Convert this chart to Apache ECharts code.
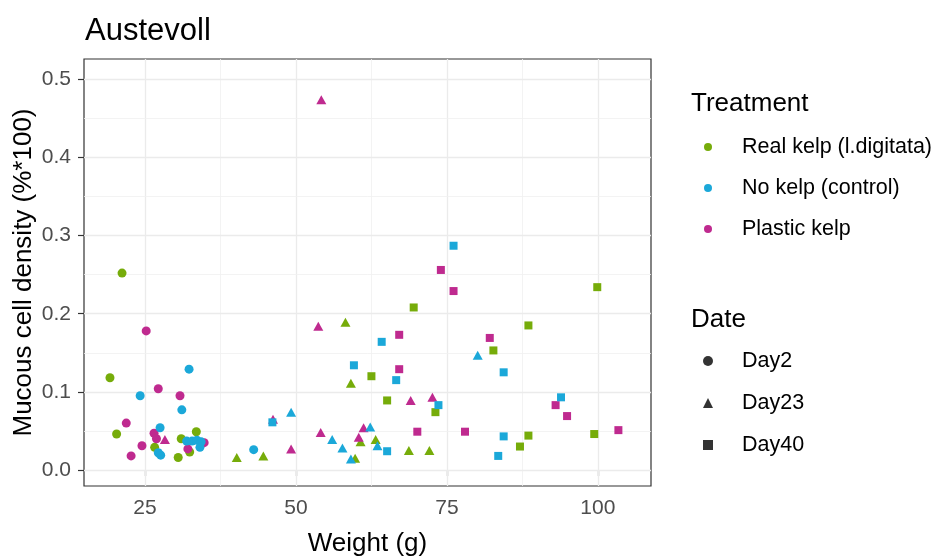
<!DOCTYPE html>
<html><head><meta charset="utf-8">
<script src="https://cdn.jsdelivr.net/npm/echarts@6/dist/echarts.min.js"></script>
<style>html,body{margin:0;padding:0;background:#fff}#c{width:943px;height:559px}</style>
</head><body><div id="c"></div>
<script>
const treatments = ['Real kelp (l.digitata)', 'No kelp (control)', 'Plastic kelp'];
const dates = ['Day2', 'Day23', 'Day40'];
const xTicks = [25, 50, 75, 100];
const xMinor = [37.5, 62.5, 87.5];
const yTicks = [0, 0.1, 0.2, 0.3, 0.4, 0.5];
const yMinor = [0.05, 0.15, 0.25, 0.35, 0.45];

// [weight, density]
const realDay2 = [[21.2,0.252],[19.2,0.118],[20.3,0.046],[26.6,0.029],[31.0,0.040],[33.5,0.049],[32.4,0.023],[30.5,0.016]];
const realDay23 = [[40.2,0.016],[44.6,0.018],[58.2,0.189],[59.1,0.111],[59.8,0.015],[60.7,0.036],[63.2,0.039],[68.7,0.025],[72.1,0.025]];
const realDay40 = [[62.5,0.120],[65.1,0.089],[69.5,0.208],[73.1,0.074],[82.7,0.153],[87.1,0.030],[88.5,0.044],[88.5,0.185],[99.4,0.046],[99.9,0.234]];

const noDay2 = [[24.2,0.095],[27.5,0.054],[27.2,0.022],[27.6,0.019],[31.1,0.077],[32.3,0.129],[31.9,0.037],[32.8,0.037],[33.6,0.038],[34.3,0.036],[34.1,0.029],[43.0,0.026]];
const noDay23 = [[49.2,0.074],[56.0,0.039],[57.7,0.028],[59.1,0.014],[62.3,0.055],[63.5,0.031],[80.1,0.147]];
const noDay40 = [[46.1,0.061],[59.6,0.134],[64.2,0.164],[65.1,0.024],[66.6,0.115],[73.6,0.083],[76.1,0.287],[83.5,0.018],[84.4,0.043],[84.4,0.125],[93.9,0.093]];

const plasticDay2 = [[21.9,0.060],[22.7,0.018],[24.5,0.031],[25.2,0.178],[26.5,0.047],[26.9,0.040],[27.2,0.104],[30.8,0.095],[32.1,0.027],[34.8,0.035]];
const plasticDay23 = [[28.3,0.039],[46.2,0.065],[49.2,0.027],[53.7,0.184],[54.1,0.048],[54.2,0.474],[60.4,0.042],[61.2,0.054],[69.0,0.089],[72.6,0.093]];
const plasticDay40 = [[67.1,0.173],[67.1,0.129],[70.1,0.049],[74.0,0.256],[76.1,0.229],[78.0,0.049],[82.1,0.169],[93.0,0.083],[94.9,0.069],[103.4,0.051]];

const colors = {'Real kelp (l.digitata)': '#76AC0A', 'No kelp (control)': '#1BA8D9', 'Plastic kelp': '#BF2A8F'};
const symbols = {Day2: 'circle', Day23: 'triangle', Day40: 'rect'};
const sizes = {Day2: 9, Day23: [10, 9], Day40: 8};

const FONT = 'Liberation Sans, Arial, sans-serif';

function pts(name, date, data) {
  return {
    type: 'scatter', name: name, data: data, symbol: symbols[date], symbolSize: sizes[date],
    itemStyle: {color: colors[name], opacity: 1}, z: 3, animation: false
  };
}

const gridLines = [];
xTicks.forEach(v => gridLines.push({xAxis: v, lineStyle: {color: '#EBEBEB', width: 1.3, type: 'solid'}}));
xMinor.forEach(v => gridLines.push({xAxis: v, lineStyle: {color: '#F0F0F0', width: 0.8, type: 'solid'}}));
yTicks.forEach(v => gridLines.push({yAxis: v, lineStyle: {color: '#EBEBEB', width: 1.3, type: 'solid'}}));
yMinor.forEach(v => gridLines.push({yAxis: v, lineStyle: {color: '#F0F0F0', width: 0.8, type: 'solid'}}));

const series = [
  {type: 'scatter', name: '__grid', data: [], z: 1, silent: true, animation: false,
   markLine: {silent: true, symbol: 'none', label: {show: false}, z: 1, animation: false, data: gridLines}},
  pts(treatments[0], 'Day2', realDay2), pts(treatments[0], 'Day23', realDay23), pts(treatments[0], 'Day40', realDay40),
  pts(treatments[2], 'Day2', plasticDay2), pts(treatments[2], 'Day23', plasticDay23), pts(treatments[2], 'Day40', plasticDay40),
  pts(treatments[1], 'Day2', noDay2), pts(treatments[1], 'Day23', noDay23), pts(treatments[1], 'Day40', noDay40)
];
dates.forEach(d => series.push({type: 'scatter', name: d, data: [], symbol: symbols[d], itemStyle: {color: '#000'}}));

const chart = echarts.init(document.getElementById('c'), null, {renderer: 'canvas'});
chart.setOption({
  animation: false,
  backgroundColor: '#fff',
  textStyle: {fontFamily: FONT},
  title: [
    {text: 'Austevoll', left: 80, top: 11, textStyle: {fontFamily: FONT, fontSize: 31, fontWeight: 'normal', color: '#000'}},
    {text: 'Treatment', left: 686, top: 86, textStyle: {fontFamily: FONT, fontSize: 26, fontWeight: 'normal', color: '#000'}},
    {text: 'Date', left: 686, top: 302, textStyle: {fontFamily: FONT, fontSize: 26, fontWeight: 'normal', color: '#000'}}
  ],
  legend: [
    {data: treatments.map(t => ({name: t, icon: 'circle'})), orient: 'vertical', left: 704, top: 135, padding: 0,
     itemWidth: 8, itemHeight: 8, itemGap: 17, selectedMode: false,
     textStyle: {fontFamily: FONT, fontSize: 21.5, lineHeight: 24, color: '#000', padding: [0, 0, 0, 25]}},
    {data: dates.map(d => ({name: d, icon: symbols[d]})), orient: 'vertical', left: 703, top: 349, padding: 0,
     itemWidth: 10, itemHeight: 10, itemGap: 18, selectedMode: false,
     textStyle: {fontFamily: FONT, fontSize: 21.5, lineHeight: 24, color: '#000', padding: [0, 0, 0, 24]}}
  ],
  grid: {left: 84, top: 59, right: 292, bottom: 73, show: true, borderColor: '#333', borderWidth: 1.2,
         backgroundColor: '#fff', containLabel: false, outerBoundsMode: 'none'},
  xAxis: {
    type: 'value', min: 14.9, max: 108.8,
    axisLine: {show: false},
    axisTick: {show: true, customValues: xTicks, length: 6, lineStyle: {color: '#333', width: 1.2}},
    axisLabel: {customValues: xTicks, color: '#4D4D4D', fontSize: 21, fontFamily: FONT, margin: 12},
    splitLine: {show: false},
    name: 'Weight (g)', nameLocation: 'middle', nameGap: 45, nameMoveOverlap: false,
    nameTextStyle: {fontFamily: FONT, fontSize: 26, color: '#000'}
  },
  yAxis: {
    type: 'value', min: -0.0205, max: 0.526,
    axisLine: {show: false},
    axisTick: {show: true, customValues: yTicks, length: 6, lineStyle: {color: '#333', width: 1.2}},
    axisLabel: {customValues: yTicks, color: '#4D4D4D', fontSize: 21, fontFamily: FONT, margin: 13,
                formatter: v => v.toFixed(1)},
    splitLine: {show: false},
    name: 'Mucous cell density (%*100)', nameLocation: 'middle', nameGap: 47, nameMoveOverlap: false,
    nameTextStyle: {fontFamily: FONT, fontSize: 26, color: '#000'}
  },
  series: series
});
</script></body></html>
